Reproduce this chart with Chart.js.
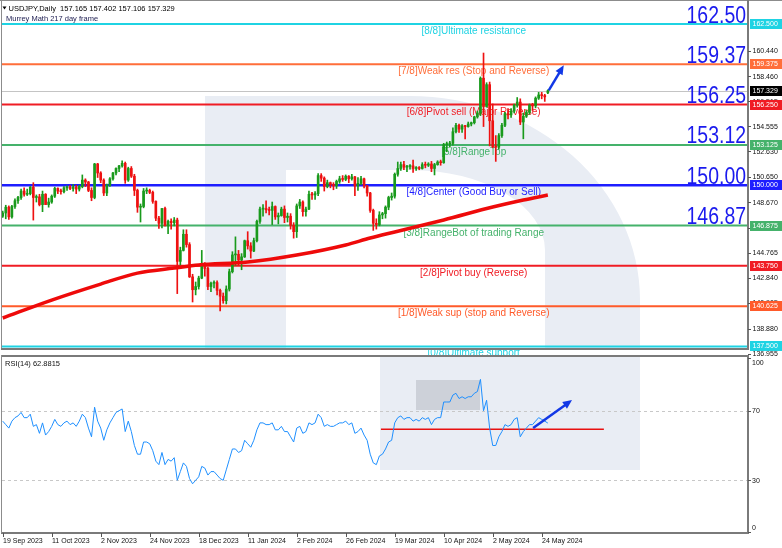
<!DOCTYPE html>
<html>
<head>
<meta charset="utf-8">
<title>USDJPY Daily - Murrey Math</title>
<script src="https://cdn.jsdelivr.net/npm/chart.js@4.4.1/dist/chart.umd.min.js"></script>
<style>
  html, body { margin: 0; padding: 0; background: #fff; }
  #box { position: relative; width: 782px; height: 548px; overflow: hidden; }
  canvas { position: absolute; left: 0; }
  #priceChart { top: 0; }
  #rsiChart { top: 355px; }
</style>
</head>
<body>
<div id="box">
  <canvas id="priceChart" width="782" height="358"></canvas>
  <canvas id="rsiChart" width="782" height="193"></canvas>
</div>
<script>
// daily bars, 19 Sep 2023 .. 28 May 2024 (bar index = trading day)
const opens = [
  147.60,147.85,148.30,147.55,148.35,148.80,149.05,149.55,149.30,149.35,
  149.85,149.05,149.10,148.50,149.30,148.50,148.70,149.15,149.75,149.55,
  149.50,149.80,149.85,149.75,149.85,149.70,149.90,150.40,150.25,149.60,
  149.05,151.65,150.95,150.40,149.40,150.00,150.50,150.95,151.30,151.50,
  151.70,150.40,151.30,150.70,149.60,148.30,148.35,149.55,149.60,149.45,
  148.75,147.45,147.05,148.20,146.85,147.20,147.10,147.30,144.10,144.95,
  146.20,145.40,142.90,141.90,142.15,142.80,143.80,143.55,142.15,142.40,
  142.45,141.85,141.40,141.05,141.95,143.30,144.60,144.65,144.20,144.45,
  145.70,145.30,144.90,145.70,147.20,148.15,148.20,148.10,148.05,148.35,
  147.55,147.65,148.15,147.50,147.60,146.90,146.40,148.40,148.70,147.95,
  148.15,149.30,149.25,149.35,150.75,150.55,149.90,150.20,150.05,149.95,
  150.30,150.50,150.45,150.70,150.50,150.65,149.95,150.15,150.50,149.95,
  149.40,148.05,147.05,146.95,147.70,147.80,148.30,149.05,149.15,150.85,
  151.30,151.60,151.40,151.45,151.50,151.30,151.35,151.30,151.60,151.55,
  151.65,151.30,151.60,151.80,151.75,153.15,153.20,153.25,154.15,154.65,
  154.35,154.60,154.55,154.75,154.85,155.30,155.60,158.30,156.10,157.80,
  155.00,153.00,152.95,153.85,154.65,155.55,155.45,155.75,156.20,156.45,
  154.90,155.35,155.65,156.20,156.15,156.75,157.00,156.95,157.165
];
const highs = [
  148.00,148.45,148.40,148.45,148.95,149.15,149.70,149.80,149.70,149.90,
  150.20,149.25,149.30,149.55,149.35,149.00,149.25,149.85,149.80,149.70,
  149.90,149.95,150.00,150.05,150.00,150.00,150.80,150.50,150.30,149.80,
  151.70,151.70,151.05,150.50,150.10,150.60,151.00,151.35,151.55,151.90,
  151.80,151.40,151.45,150.85,149.70,148.55,149.75,149.80,149.70,149.55,
  148.80,147.60,148.20,148.30,147.30,147.40,147.50,147.45,145.20,146.55,
  146.55,145.55,143.10,142.50,142.95,144.95,144.00,143.65,142.50,142.60,
  142.60,141.95,141.65,142.20,143.50,144.85,146.00,144.95,144.70,145.75,
  146.40,145.55,145.90,147.30,148.30,148.50,148.80,148.30,148.70,148.40,
  147.85,148.30,148.40,147.85,147.80,147.10,148.55,148.90,148.80,148.30,
  149.55,149.45,149.50,150.90,150.90,150.65,150.40,150.25,150.20,150.40,
  150.70,150.75,150.80,150.75,150.85,150.70,150.60,150.70,150.55,150.00,
  149.45,148.15,147.40,147.95,147.90,148.40,149.15,149.40,150.95,151.80,
  151.80,151.85,151.55,151.60,151.95,151.45,151.45,151.75,151.80,151.75,
  151.85,151.70,151.90,151.95,153.25,153.35,153.40,154.45,154.80,154.75,
  154.70,154.65,154.90,154.90,155.35,155.75,158.40,160.25,157.95,158.00,
  156.30,153.85,154.00,154.80,155.65,155.95,155.95,156.30,156.80,156.70,
  155.60,155.80,156.30,156.35,156.85,157.20,157.20,157.05,157.402
];
const lows = [
  147.50,147.40,147.35,147.45,148.20,148.60,148.90,149.15,149.20,149.25,
  147.30,148.70,148.40,147.95,148.50,148.30,148.60,149.05,149.35,149.30,
  149.40,149.60,149.65,149.55,149.35,149.55,149.80,149.90,149.50,148.80,
  148.95,150.60,150.20,149.20,149.20,149.90,150.40,150.80,151.05,151.40,
  150.15,150.30,150.60,149.20,147.90,147.15,148.25,149.35,149.35,148.60,
  147.25,146.65,146.70,146.85,146.25,146.60,146.85,141.60,143.80,144.90,
  145.20,142.85,140.95,141.50,141.95,142.75,142.95,141.90,141.75,142.05,
  141.50,140.25,140.85,140.80,141.80,143.20,143.80,143.80,143.45,144.40,
  145.05,144.35,144.85,145.60,147.05,147.60,147.85,147.70,146.95,147.35,
  147.00,147.60,147.10,147.15,146.60,145.90,145.95,148.20,147.60,147.60,
  148.10,148.90,148.90,149.20,150.30,149.55,149.80,149.80,149.65,149.75,
  150.15,150.30,150.35,150.20,150.40,149.20,149.60,150.05,149.80,149.15,
  147.90,146.50,146.60,146.85,147.40,147.45,148.10,148.85,149.00,150.70,
  151.15,151.20,151.05,151.25,151.00,151.15,151.20,151.25,151.35,151.45,
  151.05,150.80,151.55,151.55,151.70,152.60,152.95,153.10,154.05,154.10,
  154.10,153.60,154.50,154.60,154.75,155.20,155.40,154.55,156.05,153.05,
  152.90,151.85,152.80,153.70,154.55,155.15,155.25,155.60,156.05,154.70,
  153.60,155.25,155.50,155.80,156.00,156.65,156.70,156.50,157.106
];
const closes = [
  147.85,148.30,147.55,148.35,148.80,149.05,149.55,149.30,149.35,149.85,
  149.05,149.10,148.50,149.30,148.50,148.70,149.15,149.75,149.55,149.50,
  149.80,149.85,149.75,149.85,149.70,149.90,150.40,150.25,149.60,149.05,
  151.65,150.95,150.40,149.40,150.00,150.50,150.95,151.30,151.50,151.70,
  150.40,151.30,150.70,149.60,148.30,148.35,149.55,149.60,149.45,148.75,
  147.45,147.05,148.20,146.85,147.20,147.10,147.30,144.10,144.95,146.20,
  145.40,142.90,141.90,142.15,142.80,143.80,143.55,142.15,142.40,142.45,
  141.85,141.40,141.05,141.95,143.30,144.60,144.65,144.20,144.45,145.70,
  145.30,144.90,145.70,147.20,148.15,148.20,148.10,148.05,148.35,147.55,
  147.65,148.15,147.50,147.60,146.90,146.40,148.40,148.70,147.95,148.15,
  149.30,149.25,149.35,150.75,150.55,149.90,150.20,150.05,149.95,150.30,
  150.50,150.45,150.70,150.50,150.65,149.95,150.15,150.50,149.95,149.40,
  148.05,147.05,146.95,147.70,147.80,148.30,149.05,149.15,150.85,151.30,
  151.60,151.40,151.45,151.50,151.30,151.35,151.30,151.60,151.55,151.65,
  151.30,151.60,151.80,151.75,153.15,153.20,153.25,154.15,154.65,154.35,
  154.60,154.55,154.75,154.85,155.30,155.60,158.30,156.10,157.80,155.00,
  153.00,152.95,153.85,154.65,155.55,155.45,155.75,156.20,156.45,154.90,
  155.35,155.65,156.20,156.15,156.75,157.00,156.95,156.85,157.329
];

// red moving average (217), read at some bars
const maBars   = [0, 16, 32, 44, 56, 64, 80, 96, 112, 120, 128, 144, 160, 170, 178];
const maValues = [139.71, 141.10, 142.34, 143.19, 143.58, 143.82, 144.05, 144.59, 145.37, 145.91, 146.38, 147.31, 148.31, 148.86, 149.24];

// RSI(14) per bar
const rsiValues = [
  64,62,60,64,66,67,69,66,66,68,
  61,62,57,63,56,58,61,65,62,61,
  63,64,62,63,61,64,68,66,60,55,
  72,64,60,53,59,63,66,69,70,71,
  58,64,58,50,45,45,52,52,51,47,
  41,39,46,39,42,41,43,30,35,40,
  38,31,28,30,32,38,37,33,35,35,
  33,31,30,36,42,48,48,46,47,53,
  51,49,53,59,63,63,62,62,63,59,
  59,61,58,58,55,52,60,61,57,58,
  63,62,63,68,66,61,62,61,61,62,
  63,63,64,62,63,57,58,60,56,53,
  45,40,39,44,45,48,52,53,63,66,
  67,65,66,66,64,65,64,66,65,66,
  62,65,66,66,75,75,75,79,80,77,
  78,77,78,78,80,81,88,70,76,60,
  50,50,55,58,62,61,62,65,66,55,
  58,60,62,62,64,66,65,64,62.88
];

// Murrey Math lines
const mmLevels = [162.5, 159.375, 156.25, 153.125, 150.0, 146.875, 143.75, 140.625, 137.5];
const mmNames = [
  '[8/8]Ultimate resistance',
  '[7/8]Weak res (Stop and Reverse)',
  '[6/8]Pivot sell (Major Reverse)',
  '[5/8]RangeTop',
  '[4/8]Center (Good Buy or Sell)',
  '[3/8]RangeBot of trading Range',
  '[2/8]Pivot buy (Reverse)',
  '[1/8]Weak sup (stop and Reverse)',
  '[0/8]Ultimate support'
];
const mmColors = ['#1fd3e3', '#ff6e3a', '#f01c24', '#45b26b', '#1e1eff', '#45b26b', '#f01c24', '#ff5a2a', '#1fd3e3'];
const bigLevelText = ['162.50', '159.37', '156.25', '153.12', '150.00', '146.87'];

// right price scale
const priceTicks = [160.440, 158.460, 156.515, 154.555, 152.630, 150.650, 148.670, 146.720, 144.765, 142.840, 140.905, 138.880, 136.955];
const lastPrice = 157.329;
const headerText = 'USDJPY,Daily  157.165 157.402 157.106 157.329';

// bottom dates
const dateBars = [0, 16, 32, 48, 64, 80, 96, 112, 128, 144, 160, 176];
const dateLabels = ['19 Sep 2023', '11 Oct 2023', '2 Nov 2023', '24 Nov 2023', '18 Dec 2023', '11 Jan 2024',
  '2 Feb 2024', '26 Feb 2024', '19 Mar 2024', '10 Apr 2024', '2 May 2024', '24 May 2024'];

// RSI panel
const rsiAxisValues = [100, 70, 30, 0];
const rsiDashed = [70, 30];
const rsiRedLine = [123.5, 196.3, 59.3];     // from bar, to bar, value
const priceArrow = [178.3, 157.35, 183.2, 159.3];
const rsiArrow = [173.2, 60.1, 185.9, 76.1];

// ---------------------------------------------------------------
const xMin = -0.23, xMax = 243.36;   // same bar scale on both panels
const UP = '#199a1c', DOWN = '#ee1111';
const FONT = '"Liberation Sans", Arial, sans-serif';

const candleColor = closes.map((c, i) => c >= opens[i] ? UP : DOWN);
const wickData = closes.map((c, i) => ({ x: i, y: [lows[i], highs[i]] }));
const bodyData = closes.map((c, i) => ({ x: i, y: [opens[i], c] }));
const maData = maBars.map((b, i) => ({ x: b, y: maValues[i] }));

function text(ctx, s, x, y, font, color, align, base) {
  ctx.font = font;
  ctx.fillStyle = color;
  ctx.textAlign = align || 'left';
  ctx.textBaseline = base || 'alphabetic';
  ctx.fillText(s, x, y);
}

function drawArrow(ctx, x1, y1, x2, y2, color) {
  const ang = Math.atan2(y2 - y1, x2 - x1);
  const head = 10;
  ctx.strokeStyle = color;
  ctx.fillStyle = color;
  ctx.lineWidth = 2.5;
  ctx.beginPath();
  ctx.moveTo(x1, y1);
  ctx.lineTo(x2 - head * 0.7 * Math.cos(ang), y2 - head * 0.7 * Math.sin(ang));
  ctx.stroke();
  ctx.beginPath();
  ctx.moveTo(x2, y2);
  ctx.lineTo(x2 - head * Math.cos(ang - 0.42), y2 - head * Math.sin(ang - 0.42));
  ctx.lineTo(x2 - head * Math.cos(ang + 0.42), y2 - head * Math.sin(ang + 0.42));
  ctx.closePath();
  ctx.fill();
}

function priceBox(ctx, y, s, bg) {
  ctx.fillStyle = bg;
  ctx.fillRect(750, Math.round(y) - 5, 32, 10);
  text(ctx, s, 752.5, Math.round(y) + 0.5, '7px ' + FONT, '#fff', 'left', 'middle');
}

// watermark shape behind the candles (light grey-blue letter)
function watermarkMain(ctx) {
  ctx.fillStyle = '#e9edf4';
  ctx.beginPath();
  ctx.moveTo(205, 349);
  ctx.lineTo(205, 96);
  ctx.lineTo(410, 96);
  ctx.ellipse(410, 300, 230, 204, 0, -Math.PI / 2, 0);
  ctx.lineTo(640, 349);
  ctx.lineTo(545, 349);
  ctx.lineTo(545, 250);
  ctx.ellipse(410, 250, 135, 80, 0, 0, -Math.PI / 2, true);
  ctx.lineTo(286, 170);
  ctx.lineTo(286, 349);
  ctx.closePath();
  ctx.fill();
}

const mainDecor = {
  id: 'mainDecor',
  beforeDatasetsDraw(chart) {
    const ctx = chart.ctx, a = chart.chartArea, ys = chart.scales.y, xs = chart.scales.x;
    ctx.save();
    watermarkMain(ctx);

    // last price line
    const yl = Math.round(ys.getPixelForValue(lastPrice)) + 0.5;
    ctx.strokeStyle = '#c4c4c4';
    ctx.lineWidth = 1;
    ctx.beginPath(); ctx.moveTo(a.left, yl); ctx.lineTo(a.right, yl); ctx.stroke();

    // murrey lines and their names
    const cx = xs.getPixelForValue(153.8);
    mmLevels.forEach((v, i) => {
      const y = ys.getPixelForValue(v);
      ctx.strokeStyle = mmColors[i];
      ctx.lineWidth = i === 4 ? 2.5 : 2;
      ctx.beginPath(); ctx.moveTo(a.left, y); ctx.lineTo(a.right, y); ctx.stroke();
      text(ctx, mmNames[i], cx, y + 10, '10px ' + FONT, mmColors[i], 'center');
    });
    ctx.restore();
  },
  afterDraw(chart) {
    const ctx = chart.ctx, a = chart.chartArea, ys = chart.scales.y, xs = chart.scales.x;
    ctx.save();

    // big level numbers on the right
    bigLevelText.forEach((s, i) => {
      const y = ys.getPixelForValue(mmLevels[i]);
      ctx.save();
      ctx.translate(746, y - 1.5);
      ctx.scale(0.81, 1);
      text(ctx, s, 0, 0, '24px ' + FONT, '#1a1aee', 'right');
      ctx.restore();
    });

    // arrow
    drawArrow(ctx, xs.getPixelForValue(priceArrow[0]), ys.getPixelForValue(priceArrow[1]),
      xs.getPixelForValue(priceArrow[2]), ys.getPixelForValue(priceArrow[3]), '#1238e6');

    // frame
    ctx.strokeStyle = '#8c8c8c';
    ctx.lineWidth = 1;
    ctx.beginPath();
    ctx.moveTo(1.5, 0); ctx.lineTo(1.5, a.bottom);
    ctx.moveTo(0, 0.5); ctx.lineTo(782, 0.5);
    ctx.stroke();
    ctx.lineWidth = 2;
    ctx.strokeStyle = '#7a7a7a';
    ctx.beginPath();
    ctx.moveTo(a.right, 0); ctx.lineTo(a.right, a.bottom + 1);
    ctx.moveTo(1, a.bottom); ctx.lineTo(a.right + 1, a.bottom);
    ctx.stroke();

    // price scale
    ctx.lineWidth = 1;
    ctx.strokeStyle = '#555';
    priceTicks.forEach(v => {
      const y = ys.getPixelForValue(v);
      ctx.beginPath(); ctx.moveTo(a.right, Math.round(y) + 0.5); ctx.lineTo(a.right + 3, Math.round(y) + 0.5); ctx.stroke();
      text(ctx, v.toFixed(3), 752.5, y + 0.5, '7px ' + FONT, '#111', 'left', 'middle');
    });
    mmLevels.forEach((v, i) => priceBox(ctx, ys.getPixelForValue(v), v.toFixed(3), mmColors[i]));
    priceBox(ctx, ys.getPixelForValue(lastPrice), lastPrice.toFixed(3), '#000');

    // header
    ctx.fillStyle = '#000';
    ctx.beginPath(); ctx.moveTo(2.5, 6.5); ctx.lineTo(6.5, 6.5); ctx.lineTo(4.5, 9.5); ctx.closePath(); ctx.fill();
    text(ctx, headerText, 8.5, 10.5, '7.5px ' + FONT, '#000');
    text(ctx, 'Murrey Math 217 day frame', 6, 20.5, '7.5px ' + FONT, '#1c1c50');
    ctx.restore();
  }
};

new Chart(document.getElementById('priceChart'), {
  type: 'bar',
  data: {
    datasets: [
      { type: 'line', data: maData, borderColor: '#ee0a0a', borderWidth: 3.5, pointRadius: 0,
        cubicInterpolationMode: 'monotone', order: 1 },
      { data: bodyData, backgroundColor: candleColor, barThickness: 2, minBarLength: 1,
        grouped: false, order: 2 },
      { data: wickData, backgroundColor: candleColor, barThickness: 1, grouped: false, order: 3 }
    ]
  },
  options: {
    responsive: false,
    animation: false,
    devicePixelRatio: 1,
    layout: { padding: { left: 2, right: 34, top: 1, bottom: 9 } },
    plugins: { legend: { display: false }, tooltip: { enabled: false } },
    scales: {
      x: { type: 'linear', display: false, offset: false, min: xMin, max: xMax },
      y: { display: false, min: 137.306, max: 164.283 }
    }
  },
  plugins: [mainDecor]
});

// ---------------- RSI panel ----------------
const rsiDecor = {
  id: 'rsiDecor',
  beforeDatasetsDraw(chart) {
    const ctx = chart.ctx, a = chart.chartArea, ys = chart.scales.y;
    ctx.save();
    // watermark pieces
    ctx.fillStyle = '#e9edf4';
    ctx.fillRect(380, 0, 260, 115);
    ctx.fillStyle = '#cdd1d9';
    ctx.fillRect(416, 25, 64, 30);

    ctx.strokeStyle = '#c8c8c8';
    ctx.lineWidth = 1;
    ctx.setLineDash([3, 3]);
    rsiDashed.forEach(v => {
      const y = Math.round(ys.getPixelForValue(v)) + 0.5;
      ctx.beginPath(); ctx.moveTo(a.left, y); ctx.lineTo(a.right, y); ctx.stroke();
    });
    ctx.setLineDash([]);
    ctx.restore();
  },
  afterDraw(chart) {
    const ctx = chart.ctx, a = chart.chartArea, ys = chart.scales.y, xs = chart.scales.x;
    ctx.save();
    drawArrow(ctx, xs.getPixelForValue(rsiArrow[0]), ys.getPixelForValue(rsiArrow[1]),
      xs.getPixelForValue(rsiArrow[2]), ys.getPixelForValue(rsiArrow[3]), '#1238e6');

    // frame
    ctx.strokeStyle = '#7a7a7a';
    ctx.lineWidth = 2;
    ctx.beginPath();
    ctx.moveTo(1, 1); ctx.lineTo(a.right + 1, 1);
    ctx.moveTo(a.right, 0); ctx.lineTo(a.right, a.bottom + 1);
    ctx.moveTo(1, a.bottom); ctx.lineTo(a.right + 1, a.bottom);
    ctx.stroke();
    ctx.lineWidth = 1;
    ctx.strokeStyle = '#8c8c8c';
    ctx.beginPath(); ctx.moveTo(1.5, 0); ctx.lineTo(1.5, a.bottom); ctx.stroke();

    // right scale
    ctx.strokeStyle = '#555';
    rsiAxisValues.forEach(v => {
      const y = ys.getPixelForValue(v);
      const off = v === 100 ? 4.5 : (v === 0 ? -4.5 : 0);
      ctx.beginPath(); ctx.moveTo(a.right, Math.round(y) + 0.5); ctx.lineTo(a.right + 3, Math.round(y) + 0.5); ctx.stroke();
      text(ctx, String(v), 752, y + off + 0.5, '7px ' + FONT, '#111', 'left', 'middle');
    });

    // dates
    dateBars.forEach((b, i) => {
      const x = Math.round(xs.getPixelForValue(b)) + 0.5;
      ctx.beginPath(); ctx.moveTo(x, a.bottom); ctx.lineTo(x, a.bottom + 4); ctx.stroke();
      text(ctx, dateLabels[i], x - 0.5, a.bottom + 10, '7px ' + FONT, '#111', 'left');
    });

    text(ctx, 'RSI(14) 62.8815', 5, 11, '7.5px ' + FONT, '#111');
    ctx.restore();
  }
};

new Chart(document.getElementById('rsiChart'), {
  type: 'line',
  data: {
    datasets: [
      { data: rsiValues.map((v, i) => ({ x: i, y: v })), borderColor: '#1e8fff', borderWidth: 1,
        pointRadius: 0, tension: 0 },
      { data: [{ x: rsiRedLine[0], y: rsiRedLine[2] }, { x: rsiRedLine[1], y: rsiRedLine[2] }],
        borderColor: '#e81010', borderWidth: 1.5, pointRadius: 0 }
    ]
  },
  options: {
    responsive: false,
    animation: false,
    devicePixelRatio: 1,
    layout: { padding: { left: 2, right: 34, top: 2, bottom: 15 } },
    plugins: { legend: { display: false }, tooltip: { enabled: false } },
    scales: {
      x: { type: 'linear', display: false, min: xMin, max: xMax },
      y: { display: false, min: -0.29, max: 100.86 }
    }
  },
  plugins: [rsiDecor]
});
</script>
</body>
</html>
